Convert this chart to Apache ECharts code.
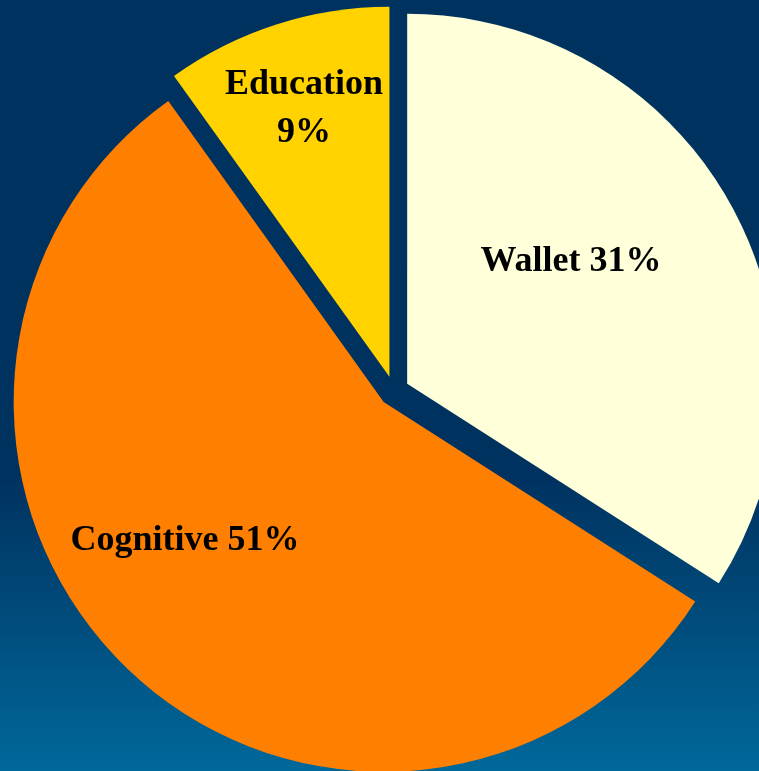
<!DOCTYPE html>
<html>
<head>
<meta charset="utf-8">
<script src="https://cdn.jsdelivr.net/npm/echarts@6/dist/echarts.min.js"></script>
<style>
  html, body { margin: 0; padding: 0; }
  #chart { width: 759px; height: 771px; }
</style>
</head>
<body>
<div id="chart"></div>
<script>
// Share of spending by area (percent)
const categories = ['Wallet', 'Cognitive', 'Education'];
const shares = [31, 51, 9];
const sliceColors = ['#FFFFDA', '#FF7F00', '#FFD200'];
const labelFormats = ['{b} {c}%', '{b} {c}%', '{b}\n{c}%'];

// Where each slice's label sits (centre point, px)
const labelSpots = [[571, 262], [185, 541], [304, 109]];

const pullOut = 15;

// Direction each slice is pulled out along (its bisector), so the label
// placement can cancel the slice's own shift.
const total = shares.reduce((a, b) => a + b, 0);
const bisectors = [];
let acc = 0;
shares.forEach(v => {
  bisectors.push((acc + v / 2) / total * 2 * Math.PI);
  acc += v;
});

const chart = echarts.init(document.getElementById('chart'), null, { renderer: 'canvas' });

chart.setOption({
  animation: false,
  backgroundColor: {
    type: 'linear', x: 0, y: 0, x2: 0, y2: 1,
    colorStops: [
      { offset: 0, color: '#003260' },
      { offset: 0.62, color: '#003260' },
      { offset: 1, color: '#00689A' }
    ]
  },
  series: [{
    type: 'pie',
    center: [394, 391],
    radius: 370,
    startAngle: 90,
    clockwise: true,
    selectedMode: 'multiple',
    selectedOffset: pullOut,
    avoidLabelOverlap: false,
    emphasis: { disabled: true },
    itemStyle: { borderWidth: 0 },
    label: {
      show: true,
      position: 'inside',
      color: '#000000',
      fontFamily: '"Liberation Serif", "Times New Roman", serif',
      fontWeight: 'bold',
      fontSize: 36,
      lineHeight: 48,
      align: 'center'
    },
    labelLine: { show: false },
    labelLayout: function (params) {
      const i = params.dataIndex;
      const spot = labelSpots[i];
      const r = params.labelRect;
      const shiftX = pullOut * Math.sin(bisectors[i]);
      const shiftY = -pullOut * Math.cos(bisectors[i]);
      return {
        dx: spot[0] - (r.x + r.width / 2) - shiftX,
        dy: spot[1] - (r.y + r.height / 2) - shiftY
      };
    },
    data: categories.map((name, i) => ({
      name: name,
      value: shares[i],
      selected: true,
      itemStyle: { color: sliceColors[i] },
      label: { formatter: labelFormats[i] }
    }))
  }]
});
</script>
</body>
</html>
